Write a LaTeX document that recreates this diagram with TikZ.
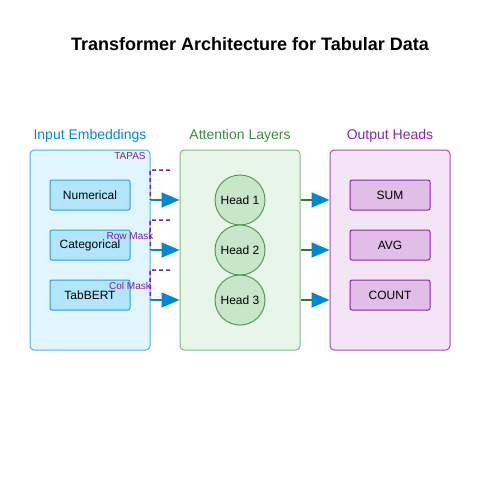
\documentclass[tikz,border=0pt]{standalone}
\usepackage{fontspec}
\setmainfont{Liberation Sans}
\usetikzlibrary{arrows.meta}
\definecolor{inFill}{HTML}{E1F5FE}
\definecolor{inLine}{HTML}{4FB0E3}
\definecolor{inText}{HTML}{0288D1}
\definecolor{inBox}{HTML}{B3E5FC}
\definecolor{inBoxLine}{HTML}{2A9FDB}
\definecolor{atFill}{HTML}{E8F5E9}
\definecolor{atLine}{HTML}{7DBA7F}
\definecolor{atText}{HTML}{388E3C}
\definecolor{atCirc}{HTML}{C8E6C9}
\definecolor{atCircLine}{HTML}{4E9F52}
\definecolor{atArrow}{HTML}{2E7D32}
\definecolor{ouFill}{HTML}{F3E5F5}
\definecolor{ouLine}{HTML}{AB47BC}
\definecolor{ouText}{HTML}{8E24AA}
\definecolor{ouBox}{HTML}{E1BEE7}
\definecolor{ouBoxLine}{HTML}{8E24AA}
\definecolor{mask}{HTML}{7B1FA2}
\begin{document}
\begin{tikzpicture}[x=1pt,y=-1pt,
  panel/.style={draw,line width=1pt,rounded corners=4pt,minimum width=120pt,minimum height=200pt,inner sep=0pt},
  head/.style={font=\fontsize{14}{16}\selectfont},
  inbox/.style={draw=inBoxLine,fill=inBox,line width=1pt,rounded corners=2pt,minimum width=80pt,minimum height=30pt,inner sep=0pt,font=\fontsize{12}{14}\selectfont},
  outbox/.style={draw=ouBoxLine,fill=ouBox,line width=1pt,rounded corners=2pt,minimum width=80pt,minimum height=30pt,inner sep=0pt,font=\fontsize{12}{14}\selectfont},
  attn/.style={circle,draw=atCircLine,fill=atCirc,line width=1pt,minimum size=50pt,inner sep=0pt,font=\fontsize{12}{14}\selectfont},
  masklabel/.style={text=mask,font=\fontsize{10}{12}\selectfont,inner sep=0pt},
  flow/.style={line width=2pt,-{Triangle[length=18pt,width=15pt,color=inText]}},
  maskline/.style={draw=mask,line width=1.5pt,dash pattern=on 4pt off 3pt}]
\useasboundingbox (0,0) rectangle (500,500);

\node[font=\bfseries\fontsize{18}{20}\selectfont] (title) at (250,44) {Transformer Architecture for Tabular Data};

% panels
\node[panel,draw=inLine,fill=inFill] (inp) at (90,250) {};
\node[panel,draw=atLine,fill=atFill] (att) at (240,250) {};
\node[panel,draw=ouLine,fill=ouFill] (out) at (390,250) {};
\node[head,text=inText] (inpT) at (90,136) {Input Embeddings};
\node[head,text=atText] (attT) at (240,136) {Attention Layers};
\node[head,text=ouText] (outT) at (390,136) {Output Heads};

% input boxes
\node[inbox] (num) at (90,195) {Numerical};
\node[inbox] (cat) at (90,245) {Categorical};
\node[inbox] (bert) at (90,295) {TabBERT};

% heads
\node[attn] (h1) at (240,200) {Head 1};
\node[attn] (h2) at (240,250) {Head 2};
\node[attn] (h3) at (240,300) {Head 3};

% output boxes
\node[outbox] (sum) at (390,195) {SUM};
\node[outbox] (avg) at (390,245) {AVG};
\node[outbox] (cnt) at (390,295) {COUNT};

% arrows
\draw[flow,draw=inText] (inp.east |- h1) -- (att.west |- h1);
\draw[flow,draw=inText] (inp.east |- h2) -- (att.west |- h2);
\draw[flow,draw=inText] (inp.east |- h3) -- (att.west |- h3);
\draw[flow,draw=atArrow] (att.east |- h1) -- (out.west |- h1);
\draw[flow,draw=atArrow] (att.east |- h2) -- (out.west |- h2);
\draw[flow,draw=atArrow] (att.east |- h3) -- (out.west |- h3);

% masks
\coordinate (m1) at (150,170);
\coordinate (m2) at (150,220);
\coordinate (m3) at (150,270);
\draw[maskline] (170,170) -- (m1) -- (inp.east |- h1);
\draw[maskline] (170,220) -- (m2) -- (inp.east |- h2);
\draw[maskline] (170,270) -- (m3) -- (inp.east |- h3);
\node[masklabel] (tapas) at (130,156) {TAPAS};
\node[masklabel] (rowm) at (130,236) {Row Mask};
\node[masklabel] (colm) at (130,286) {Col Mask};
\end{tikzpicture}
\end{document}
